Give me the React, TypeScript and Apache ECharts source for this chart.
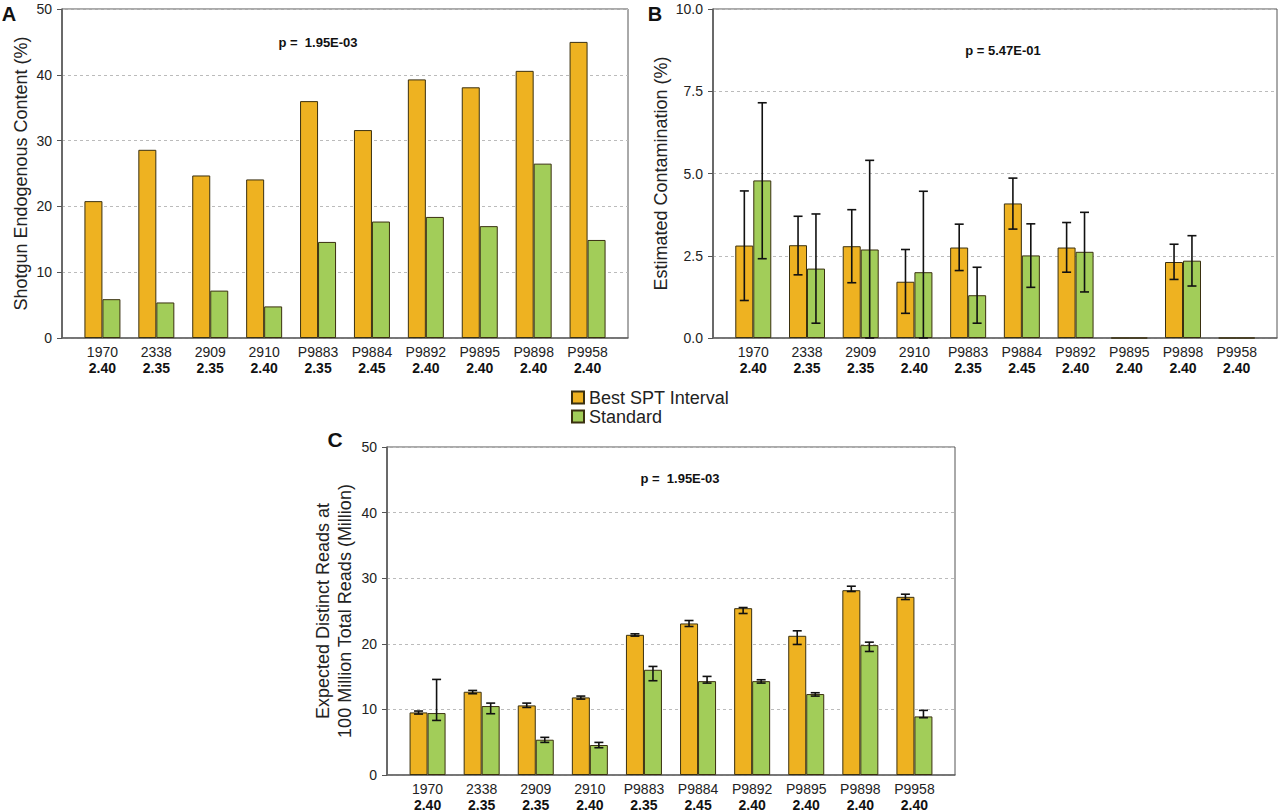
import React, { useEffect, useRef } from "react";
import * as echarts from "echarts";

const categories = ["1970", "2338", "2909", "2910", "P9883", "P9884", "P9892", "P9895", "P9898", "P9958"];
const ratios = ["2.40", "2.35", "2.35", "2.40", "2.35", "2.45", "2.40", "2.40", "2.40", "2.40"];
const seriesNames = ["Best SPT Interval", "Standard"];

// Panel A
const endoBest = [20.8, 28.6, 24.7, 24.1, 36.0, 31.6, 39.3, 38.1, 40.6, 45.0];
const endoStd = [5.9, 5.4, 7.2, 4.8, 14.6, 17.7, 18.4, 17.0, 26.5, 14.9];

// Panel B
const contBest = [2.81, 2.82, 2.79, 1.71, 2.75, 4.09, 2.75, 0, 2.31, 0];
const contBestLow = [1.14, 1.92, 1.68, 0.75, 2.05, 3.31, 2.0, null, 1.78, null];
const contBestHigh = [4.47, 3.7, 3.9, 2.69, 3.46, 4.86, 3.51, null, 2.85, null];
const contStd = [4.79, 2.11, 2.69, 2.0, 1.3, 2.51, 2.62, 0, 2.35, 0];
const contStdLow = [2.41, 0.45, 0, 0, 0.45, 1.54, 1.4, null, 1.58, null];
const contStdHigh = [7.15, 3.77, 5.4, 4.46, 2.15, 3.47, 3.82, null, 3.11, null];

// Panel C
const readBest = [9.54, 12.69, 10.61, 11.83, 21.37, 23.1, 25.43, 21.22, 28.17, 27.16];
const readBestLow = [9.29, 12.39, 10.3, 11.57, 21.17, 22.64, 24.62, 19.9, 27.97, 26.75];
const readBestHigh = [9.75, 12.89, 10.96, 12.03, 21.52, 23.55, 25.53, 21.98, 28.78, 27.56];
const readStd = [9.44, 10.51, 5.38, 4.57, 16.04, 14.31, 14.31, 12.34, 19.8, 8.93];
const readStdLow = [8.32, 9.34, 4.97, 4.16, 14.37, 14.01, 14.01, 12.03, 18.83, 8.73];
const readStdHigh = [14.57, 10.96, 5.74, 4.97, 16.55, 15.03, 14.52, 12.54, 20.25, 9.85];

const pValues = ["p =  1.95E-03", "p = 5.47E-01", "p =  1.95E-03"];
const panelLetters = ["A", "B", "C"];

const FONT = "'Liberation Sans', Arial, Helvetica, sans-serif";
const ORANGE = "#EEB221";
const GREEN = "#A2CD59";
const BORDER = "#3a3010";

function barSeries(name: string, values: number[], gridIdx: number, color: string) {
  return {
    type: "bar",
    name,
    xAxisIndex: gridIdx,
    yAxisIndex: gridIdx,
    data: values.map((v, i) => [i, v]),
    barWidth: 18,
    barGap: "0%",
    itemStyle: { color, borderColor: BORDER, borderWidth: 1 },
    z: 2,
  };
}

function errSeries(lows: (number | null)[], highs: (number | null)[], gridIdx: number, side: number) {
  const data: number[][] = [];
  lows.forEach((lo, i) => {
    const hi = highs[i];
    if (lo !== null && hi !== null) data.push([i, lo, hi]);
  });
  return {
    type: "custom",
    xAxisIndex: gridIdx,
    yAxisIndex: gridIdx,
    data,
    z: 5,
    silent: true,
    renderItem: (params: any, api: any) => {
      const x = api.value(0);
      const lo = api.value(1);
      const hi = api.value(2);
      const unit = api.size([1, 0])[0];
      const cx = api.coord([x, 0])[0] + (side * unit) / 6;
      const yl = api.coord([x, lo])[1];
      const yh = api.coord([x, hi])[1];
      const cap = 4.5;
      const st = { stroke: "#111", lineWidth: 1.6 };
      return {
        type: "group",
        children: [
          { type: "line", shape: { x1: cx, y1: yl, x2: cx, y2: yh }, style: st },
          { type: "line", shape: { x1: cx - cap, y1: yh, x2: cx + cap, y2: yh }, style: st },
          { type: "line", shape: { x1: cx - cap, y1: yl, x2: cx + cap, y2: yl }, style: st },
        ],
      };
    },
  };
}

function xAxisFor(gridIdx: number) {
  return {
    type: "value",
    gridIndex: gridIdx,
    min: -0.75,
    max: 9.75,
    interval: 0.25,
    axisLine: { show: true, onZero: false, lineStyle: { color: "#666", width: 1.5 } },
    axisTick: { show: false },
    splitLine: { show: false },
    axisLabel: {
      margin: 6,
      showMinLabel: true,
      showMaxLabel: true,
      formatter: (v: number) => {
        const r = Math.round(v);
        if (Math.abs(v - r) > 1e-6 || r < 0 || r >= categories.length) return "";
        return `{n|${categories[r]}}\n{b|${ratios[r]}}`;
      },
      rich: {
        n: { fontSize: 14, color: "#222", fontFamily: FONT, lineHeight: 16 },
        b: { fontSize: 14, color: "#111", fontWeight: "bold", fontFamily: FONT, lineHeight: 16 },
      },
    },
  };
}

function yAxisFor(gridIdx: number, max: number, interval: number, name: string, nameGap: number, digits: number) {
  return {
    type: "value",
    gridIndex: gridIdx,
    min: 0,
    max,
    interval,
    name,
    nameLocation: "middle",
    nameGap,
    nameTextStyle: { fontSize: 18, color: "#222", fontFamily: FONT, lineHeight: 22, overflow: "none" },
    axisLine: { show: true, onZero: false, lineStyle: { color: "#555", width: 1.5 } },
    axisTick: { show: true, length: 5, lineStyle: { color: "#555" } },
    axisLabel: {
      fontSize: 14,
      color: "#222",
      margin: 10,
      fontFamily: FONT,
      formatter: (v: number) => v.toFixed(digits),
    },
    splitLine: { show: true, lineStyle: { color: "#bbb", type: [3, 3], width: 1 } },
  };
}

export default function App() {
  const ref = useRef<HTMLDivElement>(null);
  useEffect(() => {
    if (!ref.current) return;
    const chart = echarts.init(ref.current, null, { renderer: "svg" });
    const grids = [
      { left: 62, top: 9, width: 566, height: 329 },
      { left: 713, top: 9, width: 566, height: 329 },
      { left: 387, top: 447, width: 568, height: 328 },
    ].map((g) => ({ ...g, show: true, borderColor: "#555", borderWidth: 1, backgroundColor: "transparent" }));

    const option: any = {
      animation: false,
      textStyle: { fontFamily: FONT },
      grid: grids,
      xAxis: [xAxisFor(0), xAxisFor(1), xAxisFor(2)],
      yAxis: [
        yAxisFor(0, 50, 10, "Shotgun Endogenous Content (%)", 30, 0),
        yAxisFor(1, 10, 2.5, "Estimated Contamination (%)", 33, 1),
        yAxisFor(2, 50, 10, "Expected Distinct Reads at\n100 Million Total Reads (Million)", 31, 0),
      ],
      legend: {
        data: seriesNames,
        orient: "vertical",
        left: 566,
        top: 383,
        icon: "rect",
        itemWidth: 12,
        itemHeight: 12,
        itemGap: 0,
        textStyle: { fontSize: 18, color: "#222", fontFamily: FONT, lineHeight: 19 },
      },
      series: [
        barSeries(seriesNames[0], endoBest, 0, ORANGE),
        barSeries(seriesNames[1], endoStd, 0, GREEN),
        barSeries(seriesNames[0], contBest, 1, ORANGE),
        barSeries(seriesNames[1], contStd, 1, GREEN),
        barSeries(seriesNames[0], readBest, 2, ORANGE),
        barSeries(seriesNames[1], readStd, 2, GREEN),
        errSeries(contBestLow, contBestHigh, 1, -1),
        errSeries(contStdLow, contStdHigh, 1, 1),
        errSeries(readBestLow, readBestHigh, 2, -1),
        errSeries(readStdLow, readStdHigh, 2, 1),
      ],
      graphic: [
        { type: "text", x: 9, y: 14, style: { text: panelLetters[0], font: `bold 20px ${FONT}`, fill: "#111", textAlign: "center", textVerticalAlign: "middle" } },
        { type: "text", x: 655, y: 14, style: { text: panelLetters[1], font: `bold 20px ${FONT}`, fill: "#111", textAlign: "center", textVerticalAlign: "middle" } },
        { type: "text", x: 335, y: 439, style: { text: panelLetters[2], font: `bold 21px ${FONT}`, fill: "#111", textAlign: "center", textVerticalAlign: "middle" } },
        { type: "text", x: 318, y: 42, style: { text: pValues[0], font: `bold 13px ${FONT}`, fill: "#111", textAlign: "center", textVerticalAlign: "middle" } },
        { type: "text", x: 1003, y: 50, style: { text: pValues[1], font: `bold 13px ${FONT}`, fill: "#111", textAlign: "center", textVerticalAlign: "middle" } },
        { type: "text", x: 680, y: 478, style: { text: pValues[2], font: `bold 13px ${FONT}`, fill: "#111", textAlign: "center", textVerticalAlign: "middle" } },
      ],
    };
    chart.setOption(option);
    return () => chart.dispose();
  }, []);
  return <div ref={ref} style={{ position: "absolute", left: 0, top: 0, width: 1280, height: 812, background: "#fff" }} />;
}
